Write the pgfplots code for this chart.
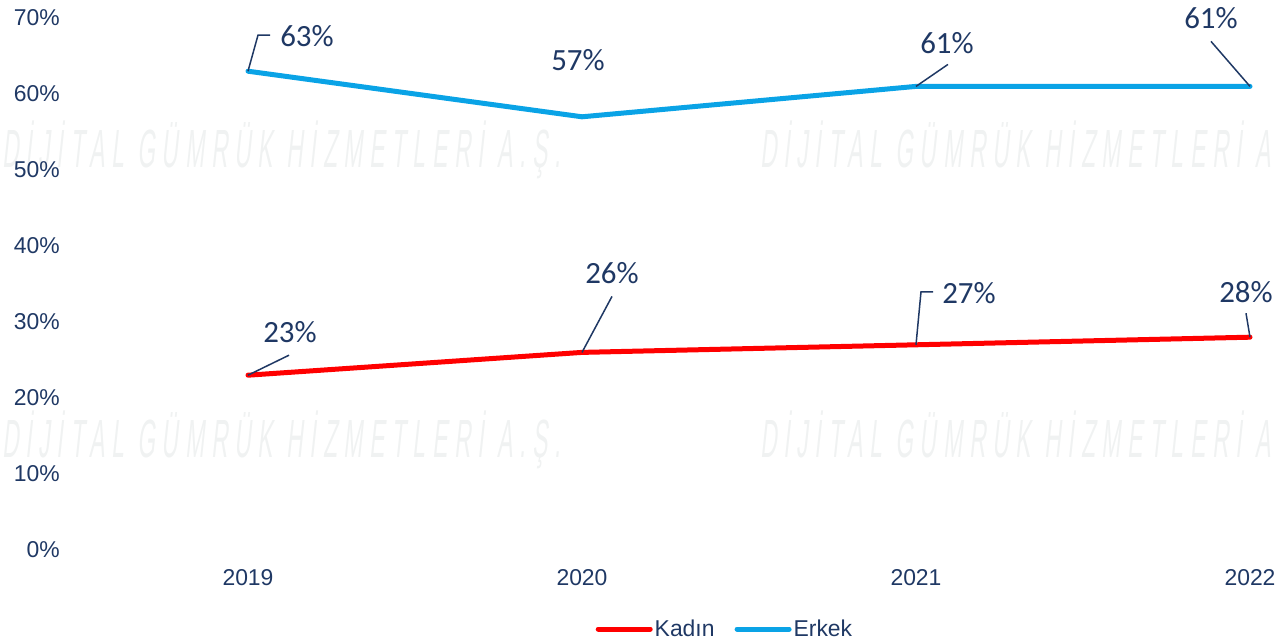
\documentclass[border=0pt]{standalone}
\usepackage{fontspec}
\usepackage{pgfplots}
\pgfplotsset{compat=1.18}
\setmainfont{Liberation Sans}
\newfontfamily\calfont{Carlito}
\newfontfamily\wmfont[LetterSpace=30,FakeSlant=0.25]{Liberation Sans}
\definecolor{navy}{HTML}{1F3864}
\definecolor{kred}{HTML}{FF0000}
\definecolor{eblue}{HTML}{0AA3E6}
\definecolor{wm}{HTML}{F0F2F2}
\tikzset{
  lbl/.style={font=\calfont\fontsize{31}{37}\selectfont, text=navy, inner sep=0pt},
  leader/.style={draw=navy, line width=1.5bp},
}
\begin{document}
\begin{tikzpicture}
\useasboundingbox (0,0) rectangle (1279bp,644bp);
% watermark text
\foreach \x/\y in {2/494, 760/494, 2/204, 760/204}{
  \node[anchor=west, inner sep=0pt, text=wm, xscale=0.425] at (\x bp,\y bp)
    {\fontsize{54}{54}\selectfont\wmfont DİJİTAL GÜMRÜK HİZMETLERİ A.Ş.};
}
\begin{axis}[
  at={(248bp,94bp)}, anchor=south west,
  scale only axis, width=1002bp, height=532bp,
  xmin=0, xmax=3, ymin=0, ymax=70,
  clip=false,
  axis line style={draw=none},
  major tick length=0pt,
  xtick={0,1,2,3},
  xticklabels={2019,2020,2021,2022},
  ytick={0,10,20,30,40,50,60,70},
  /pgf/number format/assume math mode=true,
  yticklabel={\pgfmathprintnumber{\tick}\%},
  ticklabel style={font=\fontsize{23}{27}\selectfont, text=navy},
  yticklabel style={anchor=east, inner sep=0pt, xshift=-188bp},
  xticklabel style={anchor=north, inner sep=0pt, yshift=-19bp},
  legend style={at={(0.476,-0.1485)}, anchor=center, draw=none, fill=none,
    legend columns=-1, font=\fontsize{23}{27}\selectfont, text=navy,
    /tikz/every even column/.append style={column sep=18bp},
    nodes={inner sep=2bp}},
  legend image code/.code={\draw[#1, line cap=round] (0bp,0bp) -- (52bp,0bp);},
]
\addplot[kred, line width=5bp, line join=round, line cap=round] coordinates {(0,23) (1,26) (2,27) (3,28)};
\addlegendentry{Kadın}
\addplot[eblue, line width=5bp, line join=round, line cap=round] coordinates {(0,63) (1,57) (2,61) (3,61)};
\addlegendentry{Erkek}
% leader lines
\draw[leader] (axis cs:0,63) -- ++(10bp,36bp) -- ++(12bp,0bp);
\draw[leader] (axis cs:2,61) -- ++(32bp,22bp);
\draw[leader] (axis cs:3,61) -- ++(-39bp,45bp);
\draw[leader] (axis cs:0,23) -- ++(41bp,20bp);
\draw[leader] (axis cs:1,26) -- ++(30bp,56bp);
\draw[leader] (axis cs:2,27) -- ++(5bp,53bp) -- ++(12bp,0bp);
\draw[leader] (axis cs:3,28) -- ++(-4bp,24bp);
% data labels
\node[lbl] at (axis cs:0,63) [xshift=59bp, yshift=35bp] {63\%};
\node[lbl] at (axis cs:1,57) [xshift=-4bp, yshift=57bp] {57\%};
\node[lbl] at (axis cs:2,61) [xshift=31bp, yshift=43bp] {61\%};
\node[lbl] at (axis cs:3,61) [xshift=-39bp, yshift=68bp] {61\%};
\node[lbl] at (axis cs:0,23) [xshift=42bp, yshift=43bp] {23\%};
\node[lbl] at (axis cs:1,26) [xshift=30bp, yshift=79bp] {26\%};
\node[lbl] at (axis cs:2,27) [xshift=53bp, yshift=52bp] {27\%};
\node[lbl] at (axis cs:3,28) [xshift=-4bp, yshift=45bp] {28\%};
\end{axis}
\end{tikzpicture}
\end{document}
